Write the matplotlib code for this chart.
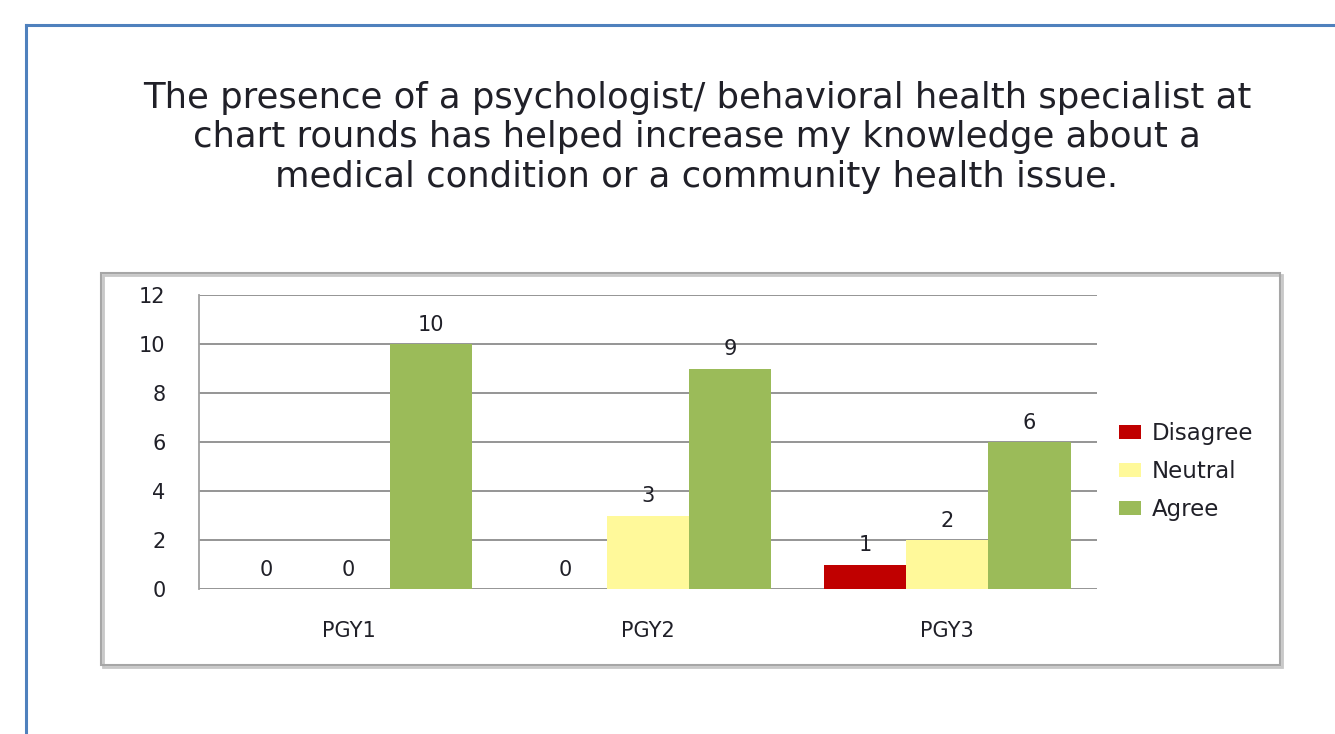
import matplotlib
matplotlib.use('Agg')
import matplotlib.pyplot as plt
from matplotlib.patches import Rectangle
from matplotlib.lines import Line2D
import numpy as np

categories = ['PGY1', 'PGY2', 'PGY3']
series_names = ['Disagree', 'Neutral', 'Agree']
disagree = [0, 0, 1]
neutral = [0, 3, 2]
agree = [10, 9, 6]
colors = ['#C00000', '#FFF99A', '#9BBB59']
title = ('The presence of a psychologist/ behavioral health specialist at\n'
         'chart rounds has helped increase my knowledge about a\n'
         'medical condition or a community health issue.')

W, H = 1335, 734
plt.rcParams['font.family'] = ['DejaVu Sans']
text_color = '#202028'

fig = plt.figure(figsize=(W / 100, H / 100), dpi=100)


def fx(px):
    return px / W


def fy(py):
    return 1 - py / H


# outer blue frame (left and top edges visible)
fig.add_artist(Line2D([fx(26), fx(26)], [fy(25), 0], color='#4F81BD', lw=2.2))
fig.add_artist(Line2D([fx(26), 1], [fy(25), fy(25)], color='#4F81BD', lw=2.2))

# chart box with slight shadow
fig.add_artist(Rectangle((fx(103), fy(667)), fx(1179), fy(275) - fy(667),
                         transform=fig.transFigure, fill=False,
                         edgecolor='#C8C8C8', lw=2))
fig.add_artist(Rectangle((fx(101), fy(665)), fx(1179), fy(273) - fy(665),
                         transform=fig.transFigure, fill=False,
                         edgecolor='#A6A6A6', lw=1.5))

fig.text(fx(697), fy(137.5), title, ha='center', va='center', fontsize=25.5,
         color=text_color, linespacing=1.19)

ax = fig.add_axes([fx(199), fy(589), fx(1097) - fx(199), fy(295) - fy(589)])

x = np.arange(len(categories))
bw = 0.275
for i, (name, vals) in enumerate(zip(series_names, [disagree, neutral, agree])):
    pos = x + (i - 1) * bw
    ax.bar(pos, vals, width=bw, color=colors[i], label=name, zorder=3)
    for p, v in zip(pos, vals):
        ax.text(p, v + 0.38, str(v), ha='center', va='bottom', fontsize=15,
                color=text_color)

ax.set_xlim(-0.5, len(categories) - 0.5)
ax.set_ylim(0, 12)
ax.set_yticks(range(0, 13, 2))
ax.set_xticks(x)
ax.set_xticklabels(categories)
ax.yaxis.grid(True, color='#8C8C8C', lw=1.3, zorder=0)
ax.set_axisbelow(True)
for s in ['top', 'right', 'bottom']:
    ax.spines[s].set_visible(False)
ax.spines['left'].set_color('#A0A0A0')
ax.spines['left'].set_linewidth(1.3)
ax.tick_params(axis='both', length=0, labelsize=15, colors=text_color)
ax.tick_params(axis='y', pad=24)
ax.tick_params(axis='x', pad=23)

ax.legend(loc='upper left', bbox_to_anchor=((1119 - 199) / 898, 1 - (422 - 295) / 294),
          frameon=False, fontsize=16.5, handlelength=0.95, handleheight=0.55,
          handletextpad=0.5, labelspacing=0.66, borderpad=0, borderaxespad=0,
          labelcolor=text_color)

fig.savefig('out.png', dpi=100)
